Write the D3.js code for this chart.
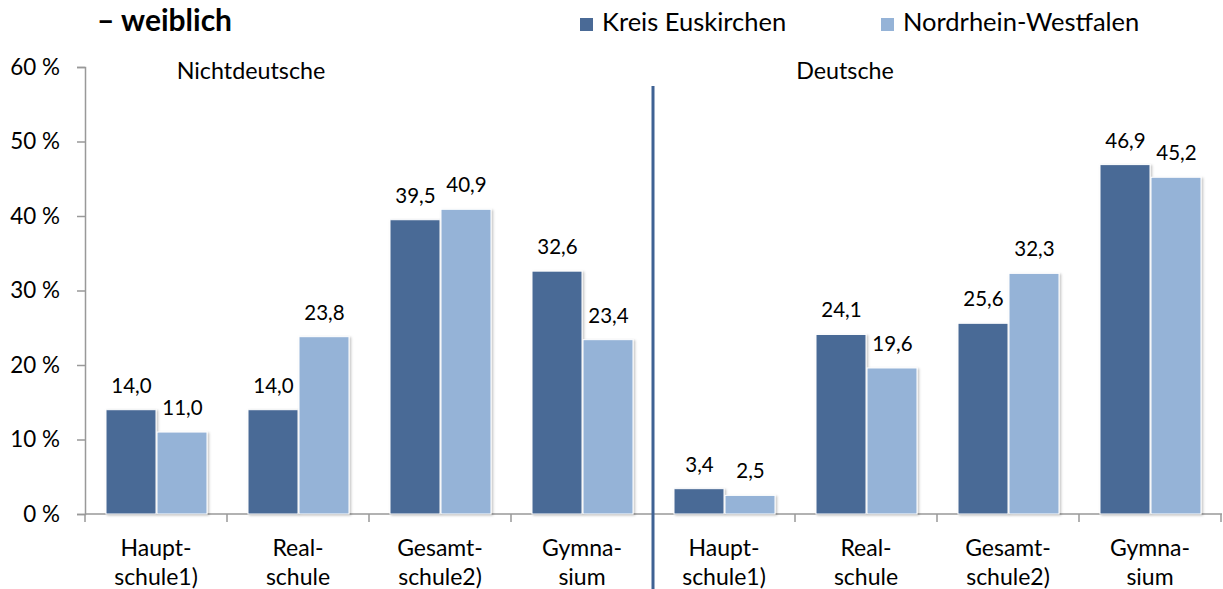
<!DOCTYPE html>
<html>
<head>
<meta charset="utf-8">
<script src="https://cdn.jsdelivr.net/npm/d3@7"></script>
<style>
  body { margin: 0; background: #fff; }
  svg text { font-family: Lato, "Open Sans", sans-serif; fill: #000; }
</style>
</head>
<body>
<div id="canvas"></div>
<script>
const categories = [
  ["Haupt-", "schule1)"], ["Real-", "schule"], ["Gesamt-", "schule2)"], ["Gymna-", "sium"],
  ["Haupt-", "schule1)"], ["Real-", "schule"], ["Gesamt-", "schule2)"], ["Gymna-", "sium"]
];
const seriesNames = ["Kreis Euskirchen", "Nordrhein-Westfalen"];
const kreis = [14.0, 14.0, 39.5, 32.6, 3.4, 24.1, 25.6, 46.9];
const nrw = [11.0, 23.8, 40.9, 23.4, 2.5, 19.6, 32.3, 45.2];
const yTicks = [0, 10, 20, 30, 40, 50, 60];
const groupNames = ["Nichtdeutsche", "Deutsche"];

const width = 1223;
const height = 589;
const colors = ["#4a6a96", "#95b3d7"];

const svg = d3.select("#canvas").append("svg")
  .attr("width", width).attr("height", height);

const defs = svg.append("defs");
const f = defs.append("filter").attr("id", "shadow")
  .attr("x", "-10%").attr("y", "-10%").attr("width", "130%").attr("height", "130%");
f.append("feDropShadow").attr("dx", 1.5).attr("dy", 1).attr("stdDeviation", 1.2)
  .attr("flood-color", "#000").attr("flood-opacity", 0.25);

const y = d3.scaleLinear().domain([0, 60]).range([514, 67]);
const x0 = d3.scaleBand().domain(d3.range(categories.length)).range([85, 1221]);
const x1 = d3.scaleBand().domain([0, 1]).range([21, 123]);

const data = categories.map((c, i) => ({ i, values: [kreis[i], nrw[i]] }));

// title
svg.append("text").attr("x", 97).attr("y", 31)
  .style("font-size", "30px").style("font-weight", "bold").text("– weiblich");

// legend
const legX = [580, 881];
seriesNames.forEach((n, k) => {
  svg.append("rect").attr("x", legX[k]).attr("y", 18).attr("width", 13).attr("height", 13)
    .attr("fill", colors[k]);
  svg.append("text").attr("x", legX[k] + 22).attr("y", 31)
    .style("font-size", "25.5px").text(n);
});

// y axis
const yAxis = svg.append("g").attr("transform", "translate(85,0)")
  .call(d3.axisLeft(y).tickValues(yTicks).tickSize(8).tickPadding(17)
    .tickFormat(d => d + " %"));
yAxis.select(".domain").attr("stroke", "#999").attr("stroke-width", 1.5);
yAxis.selectAll(".tick line").attr("stroke", "#999").attr("stroke-width", 1.5);
yAxis.selectAll(".tick text").style("font-size", "22.4px").attr("fill", "#000");

// x axis
const xg = svg.append("g").attr("transform", "translate(0,514)");
xg.append("line").attr("x1", 85).attr("x2", 1222).attr("stroke", "#999").attr("stroke-width", 1.5);
xg.selectAll("line.tk").data(d3.range(categories.length + 1)).enter().append("line")
  .attr("class", "tk")
  .attr("x1", d => 85 + d * x0.step()).attr("x2", d => 85 + d * x0.step())
  .attr("y1", 0).attr("y2", 8).attr("stroke", "#999").attr("stroke-width", 1.5);

xg.selectAll("text.cat").data(categories).enter().append("text")
  .attr("class", "cat")
  .attr("text-anchor", "middle")
  .attr("x", (d, i) => x0(i) + x0.bandwidth() / 2)
  .style("font-size", "23px")
  .each(function (d) {
    d3.select(this).selectAll("tspan").data(d).enter().append("tspan")
      .attr("x", d3.select(this).attr("x"))
      .attr("y", (t, j) => 42 + j * 29)
      .text(t => t);
  });

// bars
const groups = svg.selectAll("g.grp").data(data).enter().append("g")
  .attr("class", "grp")
  .attr("transform", d => `translate(${x0(d.i)},0)`);

groups.selectAll("rect").data(d => d.values).enter().append("rect")
  .attr("x", (v, k) => x1(k))
  .attr("y", v => y(v))
  .attr("width", x1.bandwidth() - 1)
  .attr("height", v => y(0) - y(v))
  .attr("fill", (v, k) => colors[k])
  .attr("stroke", "#fff").attr("stroke-width", 1)
  .attr("filter", "url(#shadow)");

groups.selectAll("text.val").data(d => d.values).enter().append("text")
  .attr("class", "val")
  .attr("text-anchor", "middle")
  .attr("x", (v, k) => x1(k) + x1.bandwidth() / 2)
  .attr("y", v => y(v) - 17)
  .style("font-size", "20.5px")
  .text(v => d3.format(".1f")(v).replace(".", ","));

// group labels and divider
svg.append("text").attr("x", 251).attr("y", 79).attr("text-anchor", "middle")
  .style("font-size", "23.3px").text(groupNames[0]);
svg.append("text").attr("x", 845).attr("y", 79).attr("text-anchor", "middle")
  .style("font-size", "23.3px").text(groupNames[1]);

svg.append("line")
  .attr("x1", x0(4)).attr("x2", x0(4))
  .attr("y1", 86).attr("y2", height)
  .attr("stroke", "#3f6294").attr("stroke-width", 3);
</script>
</body>
</html>
